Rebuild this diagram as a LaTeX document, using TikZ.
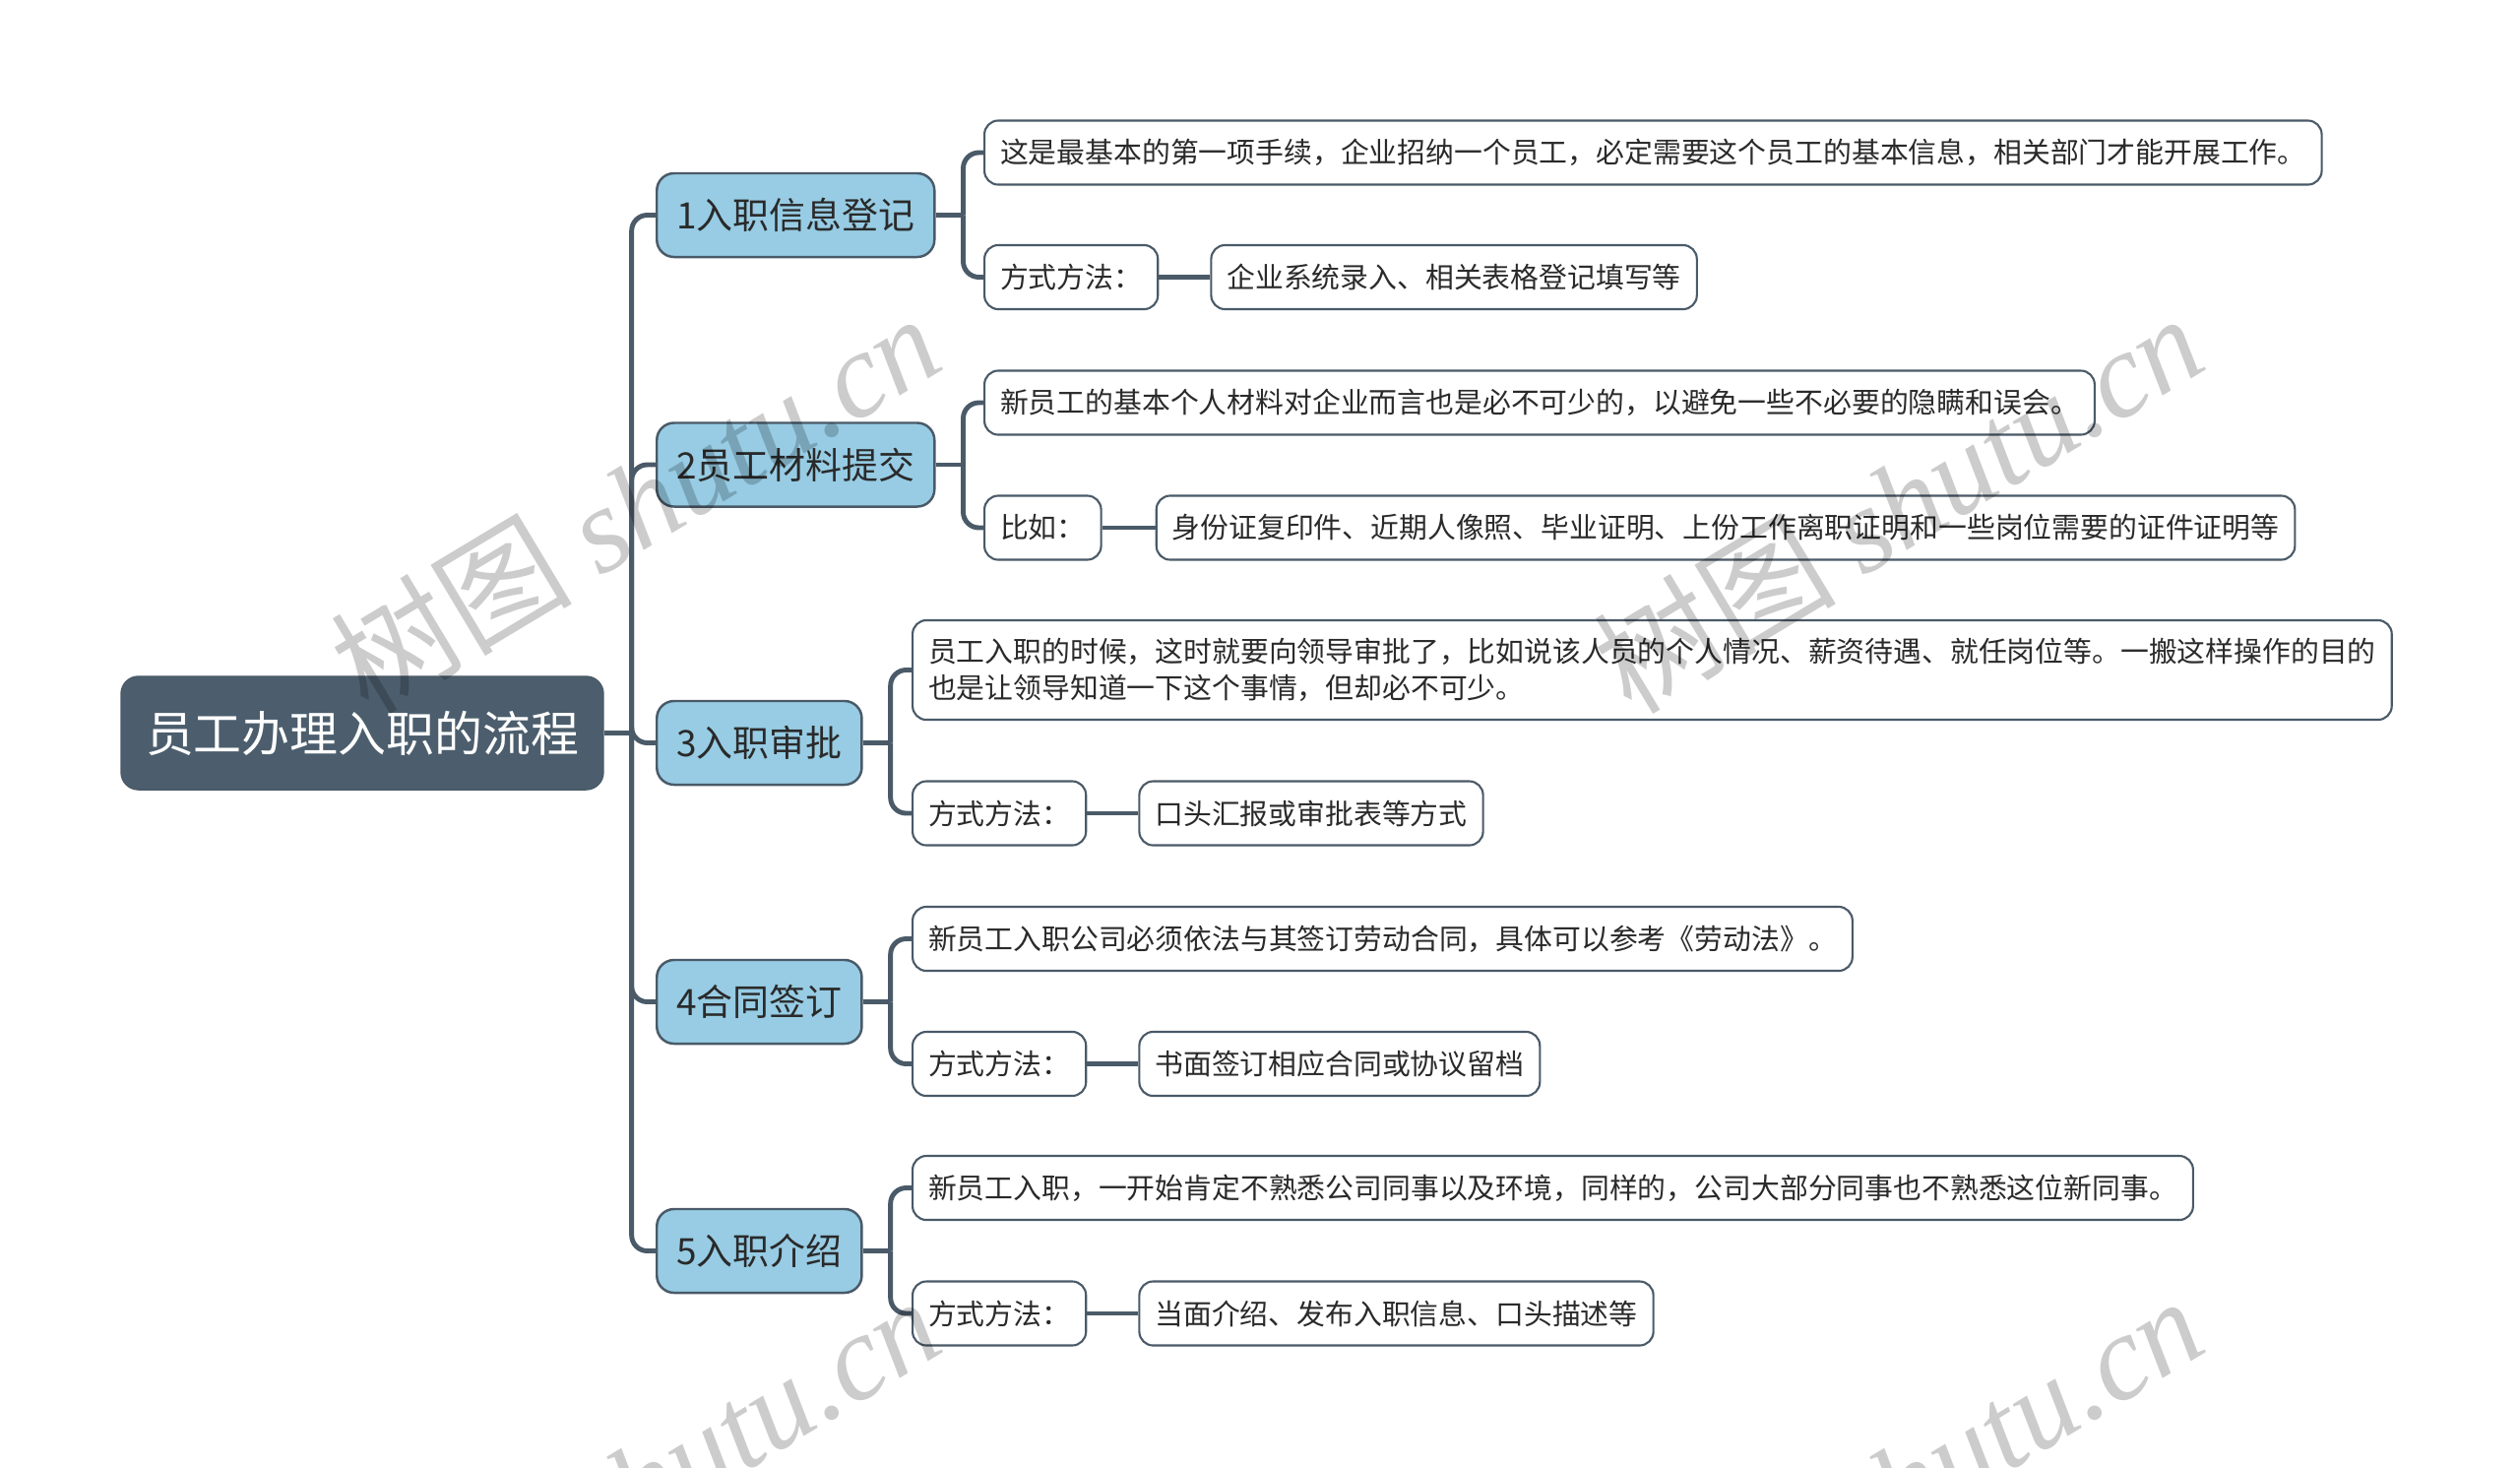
\documentclass[tikz,border=0pt]{standalone}
\usepackage{fontspec}
\setmainfont{Noto Sans CJK SC}
\newfontfamily\wmserif{Liberation Serif}
\usetikzlibrary{positioning}

\definecolor{rootfill}{HTML}{4C5E6D}
\definecolor{topicfill}{HTML}{97CCE4}
\definecolor{linecol}{HTML}{4A5A68}
\definecolor{txtcol}{HTML}{2A2A2A}

\tikzset{
  rootbox/.style={draw=linecol, fill=rootfill, text=white, rounded corners=5pt,
    font=\fontsize{13.9pt}{16pt}\selectfont, minimum height=1.15cm, inner xsep=0.25cm},
  topicbox/.style={draw=linecol, line width=0.7pt, fill=topicfill, text=txtcol, rounded corners=5pt,
    font=\fontsize{10.5pt}{13pt}\selectfont, minimum height=0.85cm, inner xsep=0.2cm, anchor=west},
  leafbox/.style={draw=linecol, line width=0.6pt, fill=white, text=txtcol, rounded corners=4pt,
    font=\fontsize{8.2pt}{10.7pt}\selectfont, minimum height=0.65cm, inner xsep=0.16cm, anchor=west, align=left},
  branch/.style={draw=linecol, line width=1.4pt, rounded corners=4.5pt},
  wmark/.style={text=black, text opacity=0.2, rotate=31, font=\fontsize{35pt}{40pt}\selectfont}
}

\begin{document}
\begin{tikzpicture}[x=0.01cm,y=-0.01cm]
\useasboundingbox (0,0) rectangle (2560,1490);
\node[rootbox] (root) at (368,744.5) {员工办理入职的流程};
% main branches
\node[topicbox] (t1) at (666,218.5) {1入职信息登记};
\node[topicbox] (t2) at (666,472) {2员工材料提交};
\node[topicbox] (t3) at (666,754.5) {3入职审批};
\node[topicbox] (t4) at (666,1017.5) {4合同签订};
\node[topicbox] (t5) at (666,1270.5) {5入职介绍};
% details
\node[leafbox] (a1) at (999,155) {这是最基本的第一项手续，企业招纳一个员工，必定需要这个员工的基本信息，相关部门才能开展工作。};
\node[leafbox] (b1) at (999,281.5) {方式方法：};
\node[leafbox, right=0.52cm of b1] (c1) {企业系统录入、相关表格登记填写等};
\node[leafbox] (a2) at (999,409) {新员工的基本个人材料对企业而言也是必不可少的，以避免一些不必要的隐瞒和误会。};
\node[leafbox] (b2) at (999,536) {比如：};
\node[leafbox, right=0.54cm of b2] (c2) {身份证复印件、近期人像照、毕业证明、上份工作离职证明和一些岗位需要的证件证明等};
\node[leafbox, minimum height=1.01cm] (a3) at (926,680.5) {员工入职的时候，这时就要向领导审批了，比如说该人员的个人情况、薪资待遇、就任岗位等。一搬这样操作的目的\\也是让领导知道一下这个事情，但却必不可少。};
\node[leafbox] (b3) at (926,826) {方式方法：};
\node[leafbox, right=0.52cm of b3] (c3) {口头汇报或审批表等方式};
\node[leafbox] (a4) at (926,953.5) {新员工入职公司必须依法与其签订劳动合同，具体可以参考《劳动法》。};
\node[leafbox] (b4) at (926,1080.5) {方式方法：};
\node[leafbox, right=0.52cm of b4] (c4) {书面签订相应合同或协议留档};
\node[leafbox] (a5) at (926,1206.5) {新员工入职，一开始肯定不熟悉公司同事以及环境，同样的，公司大部分同事也不熟悉这位新同事。};
\node[leafbox] (b5) at (926,1334) {方式方法：};
\node[leafbox, right=0.52cm of b5] (c5) {当面介绍、发布入职信息、口头描述等};
% trunk
\draw[branch] (root.east) -- ++(28,0) coordinate (j0);
\foreach \t in {t1,t2,t3,t4,t5}
  \draw[branch] (j0) |- (\t.west);
% brackets
\foreach \i in {1,...,5} {
  \draw[branch] (t\i.east) -- ++(28,0) coordinate (j\i);
  \draw[branch] (j\i) |- (a\i.west);
  \draw[branch] (j\i) |- (b\i.west);
  \draw[branch] (b\i.east) -- (c\i.west);
}
% watermark
\node[wmark] (wm1) at (645,510) {树图 {\wmserif\itshape shutu.cn}};
\node[wmark] (wm2) at (1928,510) {树图 {\wmserif\itshape shutu.cn}};
\node[wmark] (wm3) at (645,1508) {树图 {\wmserif\itshape shutu.cn}};
\node[wmark] (wm4) at (1928,1508) {树图 {\wmserif\itshape shutu.cn}};
\end{tikzpicture}
\end{document}
